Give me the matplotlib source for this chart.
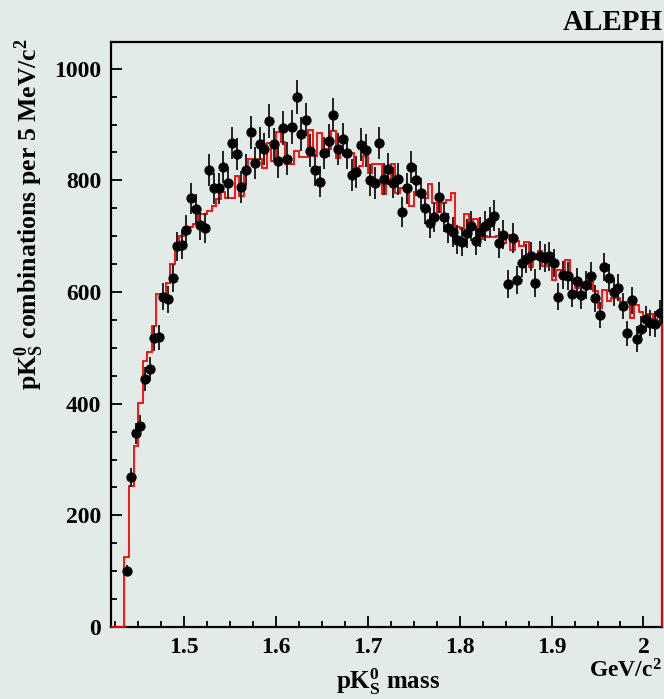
import numpy as np
import matplotlib
matplotlib.use("Agg")
import matplotlib.pyplot as plt
from matplotlib.ticker import MultipleLocator

# pK0s invariant mass, 5 MeV bins, first bin 1.435-1.440 GeV
bin_width = 0.005
first_edge = 1.435

data_counts = [
    101, 268, 347, 360, 444, 462, 517, 519, 592, 587,
    625, 682, 685, 712, 768, 749, 720, 714, 818, 786,
    786, 824, 795, 867, 847, 788, 819, 886, 831, 866,
    856, 906, 865, 834, 894, 839, 896, 949, 883, 909,
    853, 818, 798, 849, 871, 918, 856, 874, 849, 809,
    815, 864, 854, 801, 795, 867, 803, 820, 796, 802,
    743, 786, 824, 800, 777, 750, 723, 734, 770, 734,
    714, 707, 694, 690, 705, 719, 692, 708, 719, 726,
    737, 688, 703, 614, 697, 621, 652, 660, 664, 616,
    665, 661, 664, 652, 592, 630, 628, 597, 619, 594,
    613, 628, 589, 559, 645, 625, 600, 608, 575, 526,
    585, 516, 534, 552, 545, 542, 562,
]

mc_counts = [
    126, 252, 324, 401, 477, 493, 540, 597, 585, 617,
    650, 680, 700, 713, 716, 722, 740, 740, 746, 754,
    766, 780, 769, 769, 808, 772, 814, 839, 827, 839,
    822, 867, 835, 887, 869, 830, 830, 852, 842, 842,
    890, 844, 884, 855, 856, 888, 840, 852, 852, 849,
    822, 826, 844, 814, 829, 829, 776, 795, 829, 777,
    786, 792, 754, 780, 780, 768, 794, 760, 744, 760,
    765, 777, 717, 713, 740, 716, 731, 695, 701, 698,
    698, 700, 688, 703, 676, 692, 683, 689, 645, 660,
    673, 647, 668, 622, 640, 630, 658, 623, 608, 617,
    607, 619, 602, 571, 603, 584, 589, 590, 582, 583,
    553, 576, 565, 550, 560, 552, 541,
]

xticks = [1.5, 1.6, 1.7, 1.8, 1.9, 2.0]
xtick_labels = ["1.5", "1.6", "1.7", "1.8", "1.9", "2"]
yticks = [0, 200, 400, 600, 800, 1000]

bg = "#e3ebe8"
plt.rcParams["font.family"] = ["Liberation Serif", "DejaVu Serif"]
plt.rcParams["font.weight"] = "bold"
plt.rcParams["mathtext.fontset"] = "custom"
plt.rcParams["mathtext.rm"] = "Liberation Serif:bold"
plt.rcParams["mathtext.it"] = "Liberation Serif:bold"
plt.rcParams["mathtext.bf"] = "Liberation Serif:bold"
plt.rcParams["mathtext.default"] = "rm"

fig = plt.figure(figsize=(6.64, 6.99), dpi=100, facecolor=bg)
ax = fig.add_axes([0.1672, 0.103, 0.8298, 0.837])
ax.set_facecolor(bg)

n = len(data_counts)
centers = first_edge + bin_width * (np.arange(n) + 0.5)
counts = np.array(data_counts, dtype=float)

# MC histogram, empty below threshold
x_lo = 1.4205
n_empty = 3
mc_vals = [0] * n_empty + mc_counts
edges = first_edge - n_empty * bin_width + bin_width * np.arange(len(mc_vals) + 1)
ax.stairs(mc_vals, edges, baseline=0, color="red", lw=1.3, zorder=3, clip_on=False)

ax.errorbar(centers, counts, yerr=np.sqrt(counts), fmt="o", color="black",
            ecolor="#222222", ms=6.4, elinewidth=1.4, capsize=0, zorder=4)

ax.set_xlim(x_lo, 2.0202)
ax.set_ylim(0, 1048)
ax.set_xticks(xticks)
ax.set_xticklabels(xtick_labels)
ax.set_yticks(yticks)
ax.xaxis.set_minor_locator(MultipleLocator(0.025))
ax.yaxis.set_minor_locator(MultipleLocator(50))
ax.tick_params(which="both", direction="in", top=False, right=False,
               labelsize=17, width=1.3)
ax.tick_params(which="major", length=8, pad=7)
ax.tick_params(which="minor", length=4)
for s in ax.spines.values():
    s.set_linewidth(1.6)

fig.text(0.998, 0.968, "ALEPH", ha="right", va="center", fontsize=21, fontweight="bold")
fig.text(0.045, 0.945, r"pK$^{0}_{S}$ combinations per 5 MeV/c$^{2}$",
         rotation=90, ha="center", va="top", fontsize=18.5, fontweight="bold")
fig.text(0.997, 0.024, r"GeV/c$^{2}$", ha="right", va="bottom", fontsize=17, fontweight="bold")
fig.text(0.584, 0.003, r"pK$^{0}_{S}$ mass", ha="center", va="bottom", fontsize=18, fontweight="bold")

fig.savefig("out.png", dpi=100, facecolor=bg)
